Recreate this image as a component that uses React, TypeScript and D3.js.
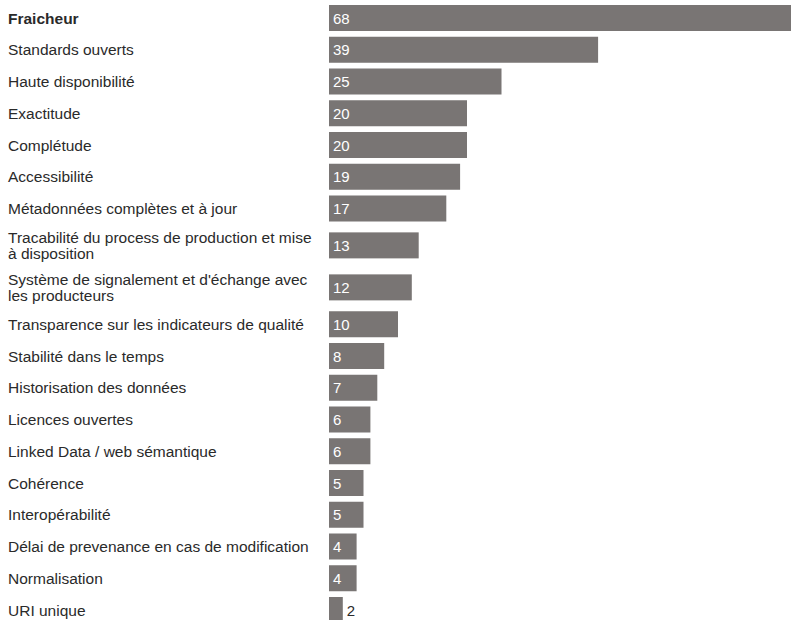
import React, { useEffect, useRef } from "react";
import * as d3 from "d3";

const categories = [
  "Fraicheur",
  "Standards ouverts",
  "Haute disponibilité",
  "Exactitude",
  "Complétude",
  "Accessibilité",
  "Métadonnées complètes et à jour",
  "Tracabilité du process de production et mise à disposition",
  "Système de signalement et d'échange avec les producteurs",
  "Transparence sur les indicateurs de qualité",
  "Stabilité dans le temps",
  "Historisation des données",
  "Licences ouvertes",
  "Linked Data / web sémantique",
  "Cohérence",
  "Interopérabilité",
  "Délai de prevenance en cas de modification",
  "Normalisation",
  "URI unique",
];

const values = [68, 39, 25, 20, 20, 19, 17, 13, 12, 10, 8, 7, 6, 6, 5, 5, 4, 4, 2];

const W = 791;
const H = 620;
const FONT = "'Liberation Sans', Arial, Helvetica, sans-serif";

export default function App() {
  const ref = useRef<SVGSVGElement | null>(null);

  useEffect(() => {
    const svg = d3.select(ref.current);
    svg.selectAll("*").remove();

    const labelX = 8;
    const maxLabelW = 315;
    const barX0 = 329;
    const pxPerUnit = 6.9;
    const barH = 26;
    const rowH1 = 31.75;
    const rowH2 = 42;
    const lineH = 16;
    const fs = 15.5;

    const x = d3
      .scaleLinear()
      .domain([0, d3.max(values) as number])
      .range([barX0, barX0 + (d3.max(values) as number) * pxPerUnit]);

    const measure = svg
      .append("text")
      .attr("font-family", FONT)
      .attr("font-size", fs)
      .attr("visibility", "hidden");
    const wrapped: string[][] = categories.map((c) => {
      const words = c.split(" ");
      const lines: string[] = [];
      let cur = "";
      for (const w of words) {
        const t = cur ? cur + " " + w : w;
        measure.text(t);
        const len = (measure.node() as SVGTextElement).getComputedTextLength();
        if (len > maxLabelW && cur) {
          lines.push(cur);
          cur = w;
        } else cur = t;
      }
      if (cur) lines.push(cur);
      return lines;
    });
    measure.remove();

    const heights = wrapped.map((l) => (l.length > 1 ? rowH2 : rowH1));
    const centers: number[] = [];
    let acc = 18 - heights[0] / 2;
    heights.forEach((h) => {
      centers.push(acc + h / 2);
      acc += h;
    });

    const rows = svg
      .selectAll("g.row")
      .data(values)
      .join("g")
      .attr("class", "row");

    rows
      .append("rect")
      .attr("x", x(0))
      .attr("y", (_, i) => centers[i] - barH / 2)
      .attr("width", (d) => x(d) - x(0))
      .attr("height", barH)
      .attr("fill", "#797574");

    rows.each(function (d, i) {
      const g = d3.select(this);
      const lines = wrapped[i];
      const c = centers[i];
      const firstBase = c + 5.5 - ((lines.length - 1) * lineH) / 2;
      const t = g
        .append("text")
        .attr("font-family", FONT)
        .attr("font-size", fs)
        .attr("fill", "#2a2a2a")
        .attr("font-weight", i === 0 ? "bold" : "normal");
      lines.forEach((ln, k) => {
        t.append("tspan")
          .attr("x", labelX)
          .attr("y", firstBase + k * lineH)
          .text(ln);
      });

      const inside = x(d) - x(0) > 24;
      g.append("text")
        .attr("font-family", FONT)
        .attr("font-size", 15)
        .attr("fill", inside ? "#ffffff" : "#2a2a2a")
        .attr("x", inside ? x(0) + 4 : x(d) + 4)
        .attr("y", c + 5.5)
        .text(String(d));
    });
  }, []);

  return (
    <svg
      ref={ref}
      width={W}
      height={H}
      style={{ position: "absolute", left: 0, top: 0, background: "#fff" }}
    />
  );
}
